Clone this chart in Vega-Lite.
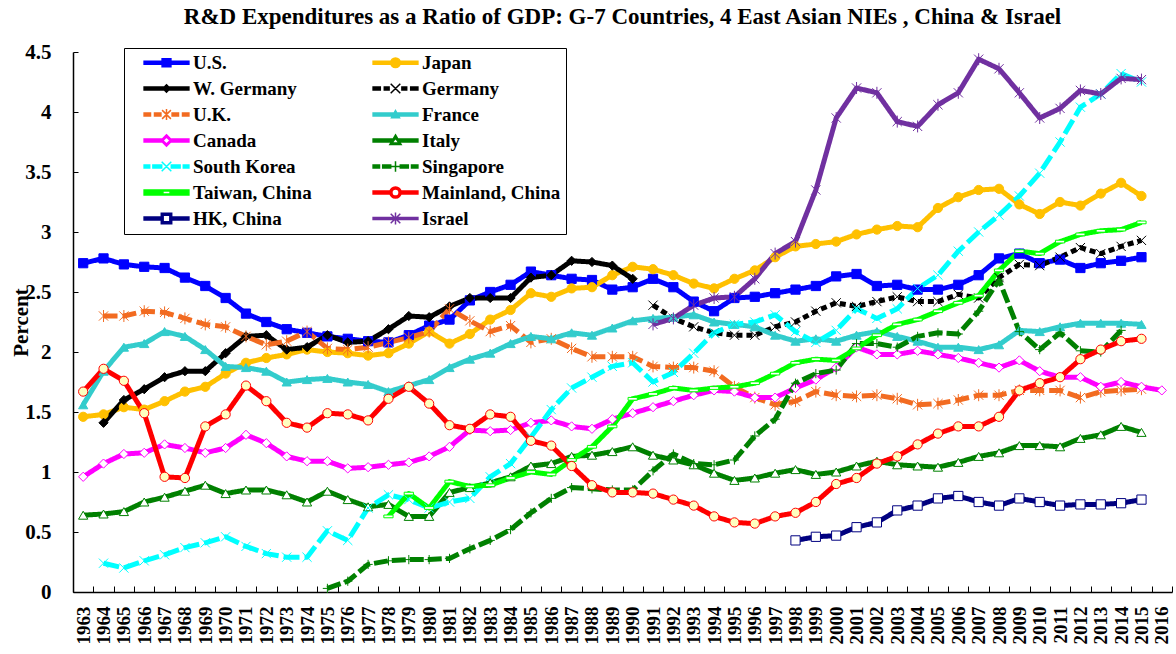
{
"$schema":"https://vega.github.io/schema/vega-lite/v6.json",
"width":1099,"height":540,
"autosize":"none",
"padding":{"left":73,"top":52,"right":4,"bottom":62},
"background":"white",
"title":{"text":"R&D Expenditures as a Ratio of GDP: G-7 Countries, 4 East Asian NIEs , China & Israel","anchor":"middle","font":"Liberation Serif","fontWeight":"bold","fontSize":23,"color":"black","offset":12},
"data":{"values":[
{"country":"U.S.","year":1963,"value":2.74},{"country":"U.S.","year":1964,"value":2.78},{"country":"U.S.","year":1965,"value":2.73},{"country":"U.S.","year":1966,"value":2.71},{"country":"U.S.","year":1967,"value":2.70},{"country":"U.S.","year":1968,"value":2.62},{"country":"U.S.","year":1969,"value":2.55},{"country":"U.S.","year":1970,"value":2.45},{"country":"U.S.","year":1971,"value":2.32},{"country":"U.S.","year":1972,"value":2.25},{"country":"U.S.","year":1973,"value":2.19},{"country":"U.S.","year":1974,"value":2.16},{"country":"U.S.","year":1975,"value":2.13},{"country":"U.S.","year":1976,"value":2.11},{"country":"U.S.","year":1977,"value":2.09},{"country":"U.S.","year":1978,"value":2.08},{"country":"U.S.","year":1979,"value":2.14},{"country":"U.S.","year":1980,"value":2.22},{"country":"U.S.","year":1981,"value":2.27},{"country":"U.S.","year":1982,"value":2.43},{"country":"U.S.","year":1983,"value":2.50},{"country":"U.S.","year":1984,"value":2.56},{"country":"U.S.","year":1985,"value":2.67},{"country":"U.S.","year":1986,"value":2.64},{"country":"U.S.","year":1987,"value":2.61},{"country":"U.S.","year":1988,"value":2.60},{"country":"U.S.","year":1989,"value":2.52},{"country":"U.S.","year":1990,"value":2.54},{"country":"U.S.","year":1991,"value":2.61},{"country":"U.S.","year":1992,"value":2.54},{"country":"U.S.","year":1993,"value":2.42},{"country":"U.S.","year":1994,"value":2.34},{"country":"U.S.","year":1995,"value":2.45},{"country":"U.S.","year":1996,"value":2.46},{"country":"U.S.","year":1997,"value":2.49},{"country":"U.S.","year":1998,"value":2.52},{"country":"U.S.","year":1999,"value":2.55},{"country":"U.S.","year":2000,"value":2.63},{"country":"U.S.","year":2001,"value":2.65},{"country":"U.S.","year":2002,"value":2.55},{"country":"U.S.","year":2003,"value":2.56},{"country":"U.S.","year":2004,"value":2.52},{"country":"U.S.","year":2005,"value":2.52},{"country":"U.S.","year":2006,"value":2.56},{"country":"U.S.","year":2007,"value":2.64},{"country":"U.S.","year":2008,"value":2.78},{"country":"U.S.","year":2009,"value":2.82},{"country":"U.S.","year":2010,"value":2.74},{"country":"U.S.","year":2011,"value":2.77},{"country":"U.S.","year":2012,"value":2.70},{"country":"U.S.","year":2013,"value":2.74},{"country":"U.S.","year":2014,"value":2.76},{"country":"U.S.","year":2015,"value":2.79},
{"country":"Japan","year":1963,"value":1.46},{"country":"Japan","year":1964,"value":1.48},{"country":"Japan","year":1965,"value":1.54},{"country":"Japan","year":1966,"value":1.52},{"country":"Japan","year":1967,"value":1.59},{"country":"Japan","year":1968,"value":1.67},{"country":"Japan","year":1969,"value":1.71},{"country":"Japan","year":1970,"value":1.82},{"country":"Japan","year":1971,"value":1.91},{"country":"Japan","year":1972,"value":1.95},{"country":"Japan","year":1973,"value":1.98},{"country":"Japan","year":1974,"value":2.02},{"country":"Japan","year":1975,"value":2.00},{"country":"Japan","year":1976,"value":1.99},{"country":"Japan","year":1977,"value":1.97},{"country":"Japan","year":1978,"value":1.99},{"country":"Japan","year":1979,"value":2.07},{"country":"Japan","year":1980,"value":2.17},{"country":"Japan","year":1981,"value":2.07},{"country":"Japan","year":1982,"value":2.15},{"country":"Japan","year":1983,"value":2.27},{"country":"Japan","year":1984,"value":2.35},{"country":"Japan","year":1985,"value":2.49},{"country":"Japan","year":1986,"value":2.46},{"country":"Japan","year":1987,"value":2.53},{"country":"Japan","year":1988,"value":2.54},{"country":"Japan","year":1989,"value":2.64},{"country":"Japan","year":1990,"value":2.71},{"country":"Japan","year":1991,"value":2.69},{"country":"Japan","year":1992,"value":2.64},{"country":"Japan","year":1993,"value":2.57},{"country":"Japan","year":1994,"value":2.53},{"country":"Japan","year":1995,"value":2.61},{"country":"Japan","year":1996,"value":2.68},{"country":"Japan","year":1997,"value":2.79},{"country":"Japan","year":1998,"value":2.88},{"country":"Japan","year":1999,"value":2.90},{"country":"Japan","year":2000,"value":2.92},{"country":"Japan","year":2001,"value":2.98},{"country":"Japan","year":2002,"value":3.02},{"country":"Japan","year":2003,"value":3.05},{"country":"Japan","year":2004,"value":3.04},{"country":"Japan","year":2005,"value":3.20},{"country":"Japan","year":2006,"value":3.29},{"country":"Japan","year":2007,"value":3.35},{"country":"Japan","year":2008,"value":3.36},{"country":"Japan","year":2009,"value":3.23},{"country":"Japan","year":2010,"value":3.15},{"country":"Japan","year":2011,"value":3.25},{"country":"Japan","year":2012,"value":3.22},{"country":"Japan","year":2013,"value":3.32},{"country":"Japan","year":2014,"value":3.41},{"country":"Japan","year":2015,"value":3.30},
{"country":"W. Germany","year":1964,"value":1.41},{"country":"W. Germany","year":1965,"value":1.60},{"country":"W. Germany","year":1966,"value":1.69},{"country":"W. Germany","year":1967,"value":1.79},{"country":"W. Germany","year":1968,"value":1.84},{"country":"W. Germany","year":1969,"value":1.84},{"country":"W. Germany","year":1970,"value":1.99},{"country":"W. Germany","year":1971,"value":2.13},{"country":"W. Germany","year":1972,"value":2.14},{"country":"W. Germany","year":1973,"value":2.02},{"country":"W. Germany","year":1974,"value":2.04},{"country":"W. Germany","year":1975,"value":2.14},{"country":"W. Germany","year":1976,"value":2.08},{"country":"W. Germany","year":1977,"value":2.09},{"country":"W. Germany","year":1978,"value":2.19},{"country":"W. Germany","year":1979,"value":2.30},{"country":"W. Germany","year":1980,"value":2.29},{"country":"W. Germany","year":1981,"value":2.38},{"country":"W. Germany","year":1982,"value":2.45},{"country":"W. Germany","year":1983,"value":2.45},{"country":"W. Germany","year":1984,"value":2.45},{"country":"W. Germany","year":1985,"value":2.62},{"country":"W. Germany","year":1986,"value":2.64},{"country":"W. Germany","year":1987,"value":2.76},{"country":"W. Germany","year":1988,"value":2.75},{"country":"W. Germany","year":1989,"value":2.72},{"country":"W. Germany","year":1990,"value":2.61},
{"country":"Germany","year":1991,"value":2.39},{"country":"Germany","year":1992,"value":2.28},{"country":"Germany","year":1993,"value":2.21},{"country":"Germany","year":1994,"value":2.16},{"country":"Germany","year":1995,"value":2.14},{"country":"Germany","year":1996,"value":2.14},{"country":"Germany","year":1997,"value":2.21},{"country":"Germany","year":1998,"value":2.25},{"country":"Germany","year":1999,"value":2.34},{"country":"Germany","year":2000,"value":2.41},{"country":"Germany","year":2001,"value":2.38},{"country":"Germany","year":2002,"value":2.42},{"country":"Germany","year":2003,"value":2.46},{"country":"Germany","year":2004,"value":2.42},{"country":"Germany","year":2005,"value":2.42},{"country":"Germany","year":2006,"value":2.48},{"country":"Germany","year":2007,"value":2.45},{"country":"Germany","year":2008,"value":2.62},{"country":"Germany","year":2009,"value":2.73},{"country":"Germany","year":2010,"value":2.72},{"country":"Germany","year":2011,"value":2.79},{"country":"Germany","year":2012,"value":2.87},{"country":"Germany","year":2013,"value":2.82},{"country":"Germany","year":2014,"value":2.88},{"country":"Germany","year":2015,"value":2.93},
{"country":"U.K.","year":1964,"value":2.30},{"country":"U.K.","year":1965,"value":2.30},{"country":"U.K.","year":1966,"value":2.34},{"country":"U.K.","year":1967,"value":2.33},{"country":"U.K.","year":1968,"value":2.28},{"country":"U.K.","year":1969,"value":2.23},{"country":"U.K.","year":1970,"value":2.21},{"country":"U.K.","year":1971,"value":2.13},{"country":"U.K.","year":1972,"value":2.06},{"country":"U.K.","year":1973,"value":2.09},{"country":"U.K.","year":1974,"value":2.17},{"country":"U.K.","year":1975,"value":2.03},{"country":"U.K.","year":1976,"value":2.02},{"country":"U.K.","year":1977,"value":2.04},{"country":"U.K.","year":1978,"value":2.08},{"country":"U.K.","year":1979,"value":2.12},{"country":"U.K.","year":1980,"value":2.17},{"country":"U.K.","year":1981,"value":2.36},{"country":"U.K.","year":1982,"value":2.26},{"country":"U.K.","year":1983,"value":2.17},{"country":"U.K.","year":1984,"value":2.22},{"country":"U.K.","year":1985,"value":2.08},{"country":"U.K.","year":1986,"value":2.11},{"country":"U.K.","year":1987,"value":2.03},{"country":"U.K.","year":1988,"value":1.96},{"country":"U.K.","year":1989,"value":1.96},{"country":"U.K.","year":1990,"value":1.96},{"country":"U.K.","year":1991,"value":1.88},{"country":"U.K.","year":1992,"value":1.87},{"country":"U.K.","year":1993,"value":1.87},{"country":"U.K.","year":1994,"value":1.84},{"country":"U.K.","year":1995,"value":1.71},{"country":"U.K.","year":1996,"value":1.62},{"country":"U.K.","year":1997,"value":1.56},{"country":"U.K.","year":1998,"value":1.59},{"country":"U.K.","year":1999,"value":1.67},{"country":"U.K.","year":2000,"value":1.64},{"country":"U.K.","year":2001,"value":1.63},{"country":"U.K.","year":2002,"value":1.64},{"country":"U.K.","year":2003,"value":1.61},{"country":"U.K.","year":2004,"value":1.56},{"country":"U.K.","year":2005,"value":1.57},{"country":"U.K.","year":2006,"value":1.60},{"country":"U.K.","year":2007,"value":1.64},{"country":"U.K.","year":2008,"value":1.64},{"country":"U.K.","year":2009,"value":1.68},{"country":"U.K.","year":2010,"value":1.68},{"country":"U.K.","year":2011,"value":1.68},{"country":"U.K.","year":2012,"value":1.62},{"country":"U.K.","year":2013,"value":1.67},{"country":"U.K.","year":2014,"value":1.68},{"country":"U.K.","year":2015,"value":1.69},
{"country":"France","year":1963,"value":1.56},{"country":"France","year":1964,"value":1.84},{"country":"France","year":1965,"value":2.04},{"country":"France","year":1966,"value":2.07},{"country":"France","year":1967,"value":2.17},{"country":"France","year":1968,"value":2.13},{"country":"France","year":1969,"value":2.02},{"country":"France","year":1970,"value":1.88},{"country":"France","year":1971,"value":1.87},{"country":"France","year":1972,"value":1.84},{"country":"France","year":1973,"value":1.75},{"country":"France","year":1974,"value":1.77},{"country":"France","year":1975,"value":1.78},{"country":"France","year":1976,"value":1.75},{"country":"France","year":1977,"value":1.73},{"country":"France","year":1978,"value":1.67},{"country":"France","year":1979,"value":1.72},{"country":"France","year":1980,"value":1.77},{"country":"France","year":1981,"value":1.87},{"country":"France","year":1982,"value":1.94},{"country":"France","year":1983,"value":1.99},{"country":"France","year":1984,"value":2.07},{"country":"France","year":1985,"value":2.13},{"country":"France","year":1986,"value":2.11},{"country":"France","year":1987,"value":2.16},{"country":"France","year":1988,"value":2.14},{"country":"France","year":1989,"value":2.20},{"country":"France","year":1990,"value":2.26},{"country":"France","year":1991,"value":2.28},{"country":"France","year":1992,"value":2.29},{"country":"France","year":1993,"value":2.31},{"country":"France","year":1994,"value":2.25},{"country":"France","year":1995,"value":2.23},{"country":"France","year":1996,"value":2.21},{"country":"France","year":1997,"value":2.14},{"country":"France","year":1998,"value":2.09},{"country":"France","year":1999,"value":2.11},{"country":"France","year":2000,"value":2.09},{"country":"France","year":2001,"value":2.14},{"country":"France","year":2002,"value":2.17},{"country":"France","year":2003,"value":2.13},{"country":"France","year":2004,"value":2.09},{"country":"France","year":2005,"value":2.04},{"country":"France","year":2006,"value":2.04},{"country":"France","year":2007,"value":2.02},{"country":"France","year":2008,"value":2.06},{"country":"France","year":2009,"value":2.18},{"country":"France","year":2010,"value":2.17},{"country":"France","year":2011,"value":2.21},{"country":"France","year":2012,"value":2.24},{"country":"France","year":2013,"value":2.24},{"country":"France","year":2014,"value":2.24},{"country":"France","year":2015,"value":2.23},
{"country":"Canada","year":1963,"value":0.96},{"country":"Canada","year":1964,"value":1.07},{"country":"Canada","year":1965,"value":1.15},{"country":"Canada","year":1966,"value":1.16},{"country":"Canada","year":1967,"value":1.23},{"country":"Canada","year":1968,"value":1.20},{"country":"Canada","year":1969,"value":1.16},{"country":"Canada","year":1970,"value":1.20},{"country":"Canada","year":1971,"value":1.31},{"country":"Canada","year":1972,"value":1.24},{"country":"Canada","year":1973,"value":1.13},{"country":"Canada","year":1974,"value":1.09},{"country":"Canada","year":1975,"value":1.09},{"country":"Canada","year":1976,"value":1.03},{"country":"Canada","year":1977,"value":1.04},{"country":"Canada","year":1978,"value":1.06},{"country":"Canada","year":1979,"value":1.08},{"country":"Canada","year":1980,"value":1.13},{"country":"Canada","year":1981,"value":1.21},{"country":"Canada","year":1982,"value":1.35},{"country":"Canada","year":1983,"value":1.34},{"country":"Canada","year":1984,"value":1.35},{"country":"Canada","year":1985,"value":1.41},{"country":"Canada","year":1986,"value":1.43},{"country":"Canada","year":1987,"value":1.38},{"country":"Canada","year":1988,"value":1.36},{"country":"Canada","year":1989,"value":1.44},{"country":"Canada","year":1990,"value":1.49},{"country":"Canada","year":1991,"value":1.54},{"country":"Canada","year":1992,"value":1.59},{"country":"Canada","year":1993,"value":1.64},{"country":"Canada","year":1994,"value":1.68},{"country":"Canada","year":1995,"value":1.67},{"country":"Canada","year":1996,"value":1.62},{"country":"Canada","year":1997,"value":1.62},{"country":"Canada","year":1998,"value":1.70},{"country":"Canada","year":1999,"value":1.77},{"country":"Canada","year":2000,"value":1.87},{"country":"Canada","year":2001,"value":2.04},{"country":"Canada","year":2002,"value":1.98},{"country":"Canada","year":2003,"value":1.98},{"country":"Canada","year":2004,"value":2.01},{"country":"Canada","year":2005,"value":1.98},{"country":"Canada","year":2006,"value":1.95},{"country":"Canada","year":2007,"value":1.91},{"country":"Canada","year":2008,"value":1.87},{"country":"Canada","year":2009,"value":1.93},{"country":"Canada","year":2010,"value":1.84},{"country":"Canada","year":2011,"value":1.79},{"country":"Canada","year":2012,"value":1.79},{"country":"Canada","year":2013,"value":1.71},{"country":"Canada","year":2014,"value":1.75},{"country":"Canada","year":2015,"value":1.71},{"country":"Canada","year":2016,"value":1.68},
{"country":"Italy","year":1963,"value":0.64},{"country":"Italy","year":1964,"value":0.65},{"country":"Italy","year":1965,"value":0.67},{"country":"Italy","year":1966,"value":0.75},{"country":"Italy","year":1967,"value":0.79},{"country":"Italy","year":1968,"value":0.84},{"country":"Italy","year":1969,"value":0.89},{"country":"Italy","year":1970,"value":0.82},{"country":"Italy","year":1971,"value":0.85},{"country":"Italy","year":1972,"value":0.85},{"country":"Italy","year":1973,"value":0.81},{"country":"Italy","year":1974,"value":0.75},{"country":"Italy","year":1975,"value":0.84},{"country":"Italy","year":1976,"value":0.77},{"country":"Italy","year":1977,"value":0.71},{"country":"Italy","year":1978,"value":0.73},{"country":"Italy","year":1979,"value":0.63},{"country":"Italy","year":1980,"value":0.63},{"country":"Italy","year":1981,"value":0.83},{"country":"Italy","year":1982,"value":0.87},{"country":"Italy","year":1983,"value":0.91},{"country":"Italy","year":1984,"value":0.96},{"country":"Italy","year":1985,"value":1.05},{"country":"Italy","year":1986,"value":1.07},{"country":"Italy","year":1987,"value":1.13},{"country":"Italy","year":1988,"value":1.14},{"country":"Italy","year":1989,"value":1.17},{"country":"Italy","year":1990,"value":1.21},{"country":"Italy","year":1991,"value":1.14},{"country":"Italy","year":1992,"value":1.10},{"country":"Italy","year":1993,"value":1.06},{"country":"Italy","year":1994,"value":0.99},{"country":"Italy","year":1995,"value":0.93},{"country":"Italy","year":1996,"value":0.95},{"country":"Italy","year":1997,"value":0.99},{"country":"Italy","year":1998,"value":1.02},{"country":"Italy","year":1999,"value":0.98},{"country":"Italy","year":2000,"value":1.00},{"country":"Italy","year":2001,"value":1.05},{"country":"Italy","year":2002,"value":1.09},{"country":"Italy","year":2003,"value":1.06},{"country":"Italy","year":2004,"value":1.05},{"country":"Italy","year":2005,"value":1.04},{"country":"Italy","year":2006,"value":1.08},{"country":"Italy","year":2007,"value":1.13},{"country":"Italy","year":2008,"value":1.16},{"country":"Italy","year":2009,"value":1.22},{"country":"Italy","year":2010,"value":1.22},{"country":"Italy","year":2011,"value":1.21},{"country":"Italy","year":2012,"value":1.28},{"country":"Italy","year":2013,"value":1.31},{"country":"Italy","year":2014,"value":1.38},{"country":"Italy","year":2015,"value":1.33},
{"country":"South Korea","year":1964,"value":0.24},{"country":"South Korea","year":1965,"value":0.20},{"country":"South Korea","year":1966,"value":0.26},{"country":"South Korea","year":1967,"value":0.31},{"country":"South Korea","year":1968,"value":0.37},{"country":"South Korea","year":1969,"value":0.41},{"country":"South Korea","year":1970,"value":0.46},{"country":"South Korea","year":1971,"value":0.38},{"country":"South Korea","year":1972,"value":0.32},{"country":"South Korea","year":1973,"value":0.29},{"country":"South Korea","year":1974,"value":0.29},{"country":"South Korea","year":1975,"value":0.51},{"country":"South Korea","year":1976,"value":0.43},{"country":"South Korea","year":1977,"value":0.70},{"country":"South Korea","year":1978,"value":0.81},{"country":"South Korea","year":1979,"value":0.77},{"country":"South Korea","year":1980,"value":0.70},{"country":"South Korea","year":1981,"value":0.75},{"country":"South Korea","year":1982,"value":0.78},{"country":"South Korea","year":1983,"value":0.96},{"country":"South Korea","year":1984,"value":1.07},{"country":"South Korea","year":1985,"value":1.29},{"country":"South Korea","year":1986,"value":1.52},{"country":"South Korea","year":1987,"value":1.70},{"country":"South Korea","year":1988,"value":1.79},{"country":"South Korea","year":1989,"value":1.88},{"country":"South Korea","year":1990,"value":1.91},{"country":"South Korea","year":1991,"value":1.75},{"country":"South Korea","year":1992,"value":1.83},{"country":"South Korea","year":1993,"value":1.99},{"country":"South Korea","year":1994,"value":2.16},{"country":"South Korea","year":1995,"value":2.23},{"country":"South Korea","year":1996,"value":2.25},{"country":"South Korea","year":1997,"value":2.31},{"country":"South Korea","year":1998,"value":2.17},{"country":"South Korea","year":1999,"value":2.08},{"country":"South Korea","year":2000,"value":2.18},{"country":"South Korea","year":2001,"value":2.36},{"country":"South Korea","year":2002,"value":2.28},{"country":"South Korea","year":2003,"value":2.36},{"country":"South Korea","year":2004,"value":2.53},{"country":"South Korea","year":2005,"value":2.64},{"country":"South Korea","year":2006,"value":2.84},{"country":"South Korea","year":2007,"value":3.00},{"country":"South Korea","year":2008,"value":3.14},{"country":"South Korea","year":2009,"value":3.30},{"country":"South Korea","year":2010,"value":3.49},{"country":"South Korea","year":2011,"value":3.75},{"country":"South Korea","year":2012,"value":4.04},{"country":"South Korea","year":2013,"value":4.15},{"country":"South Korea","year":2014,"value":4.32},{"country":"South Korea","year":2015,"value":4.25},
{"country":"Singapore","year":1975,"value":0.03},{"country":"Singapore","year":1976,"value":0.09},{"country":"Singapore","year":1977,"value":0.23},{"country":"Singapore","year":1978,"value":0.26},{"country":"Singapore","year":1979,"value":0.27},{"country":"Singapore","year":1980,"value":0.27},{"country":"Singapore","year":1981,"value":0.28},{"country":"Singapore","year":1982,"value":0.36},{"country":"Singapore","year":1983,"value":0.43},{"country":"Singapore","year":1984,"value":0.52},{"country":"Singapore","year":1985,"value":0.66},{"country":"Singapore","year":1986,"value":0.78},{"country":"Singapore","year":1987,"value":0.87},{"country":"Singapore","year":1988,"value":0.86},{"country":"Singapore","year":1989,"value":0.85},{"country":"Singapore","year":1990,"value":0.85},{"country":"Singapore","year":1991,"value":1.01},{"country":"Singapore","year":1992,"value":1.15},{"country":"Singapore","year":1993,"value":1.07},{"country":"Singapore","year":1994,"value":1.06},{"country":"Singapore","year":1995,"value":1.10},{"country":"Singapore","year":1996,"value":1.30},{"country":"Singapore","year":1997,"value":1.44},{"country":"Singapore","year":1998,"value":1.74},{"country":"Singapore","year":1999,"value":1.82},{"country":"Singapore","year":2000,"value":1.85},{"country":"Singapore","year":2001,"value":2.07},{"country":"Singapore","year":2002,"value":2.07},{"country":"Singapore","year":2003,"value":2.04},{"country":"Singapore","year":2004,"value":2.13},{"country":"Singapore","year":2005,"value":2.16},{"country":"Singapore","year":2006,"value":2.15},{"country":"Singapore","year":2007,"value":2.34},{"country":"Singapore","year":2008,"value":2.60},{"country":"Singapore","year":2009,"value":2.17},{"country":"Singapore","year":2010,"value":2.02},{"country":"Singapore","year":2011,"value":2.16},{"country":"Singapore","year":2012,"value":2.01},{"country":"Singapore","year":2013,"value":2.00},{"country":"Singapore","year":2014,"value":2.18},
{"country":"Taiwan, China","year":1978,"value":0.63},{"country":"Taiwan, China","year":1979,"value":0.82},{"country":"Taiwan, China","year":1980,"value":0.70},{"country":"Taiwan, China","year":1981,"value":0.92},{"country":"Taiwan, China","year":1982,"value":0.88},{"country":"Taiwan, China","year":1983,"value":0.89},{"country":"Taiwan, China","year":1984,"value":0.95},{"country":"Taiwan, China","year":1985,"value":1.00},{"country":"Taiwan, China","year":1986,"value":0.98},{"country":"Taiwan, China","year":1987,"value":1.10},{"country":"Taiwan, China","year":1988,"value":1.21},{"country":"Taiwan, China","year":1989,"value":1.38},{"country":"Taiwan, China","year":1990,"value":1.61},{"country":"Taiwan, China","year":1991,"value":1.65},{"country":"Taiwan, China","year":1992,"value":1.70},{"country":"Taiwan, China","year":1993,"value":1.68},{"country":"Taiwan, China","year":1994,"value":1.70},{"country":"Taiwan, China","year":1995,"value":1.71},{"country":"Taiwan, China","year":1996,"value":1.74},{"country":"Taiwan, China","year":1997,"value":1.82},{"country":"Taiwan, China","year":1998,"value":1.91},{"country":"Taiwan, China","year":1999,"value":1.94},{"country":"Taiwan, China","year":2000,"value":1.93},{"country":"Taiwan, China","year":2001,"value":2.03},{"country":"Taiwan, China","year":2002,"value":2.14},{"country":"Taiwan, China","year":2003,"value":2.23},{"country":"Taiwan, China","year":2004,"value":2.27},{"country":"Taiwan, China","year":2005,"value":2.34},{"country":"Taiwan, China","year":2006,"value":2.41},{"country":"Taiwan, China","year":2007,"value":2.47},{"country":"Taiwan, China","year":2008,"value":2.68},{"country":"Taiwan, China","year":2009,"value":2.84},{"country":"Taiwan, China","year":2010,"value":2.82},{"country":"Taiwan, China","year":2011,"value":2.92},{"country":"Taiwan, China","year":2012,"value":2.98},{"country":"Taiwan, China","year":2013,"value":3.01},{"country":"Taiwan, China","year":2014,"value":3.02},{"country":"Taiwan, China","year":2015,"value":3.08},
{"country":"Mainland, China","year":1963,"value":1.67},{"country":"Mainland, China","year":1964,"value":1.86},{"country":"Mainland, China","year":1965,"value":1.76},{"country":"Mainland, China","year":1966,"value":1.49},{"country":"Mainland, China","year":1967,"value":0.96},{"country":"Mainland, China","year":1968,"value":0.95},{"country":"Mainland, China","year":1969,"value":1.38},{"country":"Mainland, China","year":1970,"value":1.48},{"country":"Mainland, China","year":1971,"value":1.72},{"country":"Mainland, China","year":1972,"value":1.59},{"country":"Mainland, China","year":1973,"value":1.41},{"country":"Mainland, China","year":1974,"value":1.37},{"country":"Mainland, China","year":1975,"value":1.49},{"country":"Mainland, China","year":1976,"value":1.48},{"country":"Mainland, China","year":1977,"value":1.43},{"country":"Mainland, China","year":1978,"value":1.61},{"country":"Mainland, China","year":1979,"value":1.71},{"country":"Mainland, China","year":1980,"value":1.57},{"country":"Mainland, China","year":1981,"value":1.39},{"country":"Mainland, China","year":1982,"value":1.36},{"country":"Mainland, China","year":1983,"value":1.48},{"country":"Mainland, China","year":1984,"value":1.46},{"country":"Mainland, China","year":1985,"value":1.26},{"country":"Mainland, China","year":1986,"value":1.22},{"country":"Mainland, China","year":1987,"value":1.05},{"country":"Mainland, China","year":1988,"value":0.89},{"country":"Mainland, China","year":1989,"value":0.83},{"country":"Mainland, China","year":1990,"value":0.83},{"country":"Mainland, China","year":1991,"value":0.82},{"country":"Mainland, China","year":1992,"value":0.77},{"country":"Mainland, China","year":1993,"value":0.72},{"country":"Mainland, China","year":1994,"value":0.63},{"country":"Mainland, China","year":1995,"value":0.58},{"country":"Mainland, China","year":1996,"value":0.57},{"country":"Mainland, China","year":1997,"value":0.63},{"country":"Mainland, China","year":1998,"value":0.66},{"country":"Mainland, China","year":1999,"value":0.75},{"country":"Mainland, China","year":2000,"value":0.90},{"country":"Mainland, China","year":2001,"value":0.95},{"country":"Mainland, China","year":2002,"value":1.07},{"country":"Mainland, China","year":2003,"value":1.13},{"country":"Mainland, China","year":2004,"value":1.23},{"country":"Mainland, China","year":2005,"value":1.32},{"country":"Mainland, China","year":2006,"value":1.38},{"country":"Mainland, China","year":2007,"value":1.38},{"country":"Mainland, China","year":2008,"value":1.46},{"country":"Mainland, China","year":2009,"value":1.68},{"country":"Mainland, China","year":2010,"value":1.74},{"country":"Mainland, China","year":2011,"value":1.79},{"country":"Mainland, China","year":2012,"value":1.94},{"country":"Mainland, China","year":2013,"value":2.02},{"country":"Mainland, China","year":2014,"value":2.09},{"country":"Mainland, China","year":2015,"value":2.11},
{"country":"HK, China","year":1998,"value":0.43},{"country":"HK, China","year":1999,"value":0.46},{"country":"HK, China","year":2000,"value":0.47},{"country":"HK, China","year":2001,"value":0.54},{"country":"HK, China","year":2002,"value":0.58},{"country":"HK, China","year":2003,"value":0.68},{"country":"HK, China","year":2004,"value":0.72},{"country":"HK, China","year":2005,"value":0.78},{"country":"HK, China","year":2006,"value":0.80},{"country":"HK, China","year":2007,"value":0.75},{"country":"HK, China","year":2008,"value":0.72},{"country":"HK, China","year":2009,"value":0.78},{"country":"HK, China","year":2010,"value":0.75},{"country":"HK, China","year":2011,"value":0.72},{"country":"HK, China","year":2012,"value":0.73},{"country":"HK, China","year":2013,"value":0.73},{"country":"HK, China","year":2014,"value":0.74},{"country":"HK, China","year":2015,"value":0.77},
{"country":"Israel","year":1991,"value":2.23},{"country":"Israel","year":1992,"value":2.28},{"country":"Israel","year":1993,"value":2.39},{"country":"Israel","year":1994,"value":2.45},{"country":"Israel","year":1995,"value":2.46},{"country":"Israel","year":1996,"value":2.61},{"country":"Israel","year":1997,"value":2.82},{"country":"Israel","year":1998,"value":2.92},{"country":"Israel","year":1999,"value":3.35},{"country":"Israel","year":2000,"value":3.95},{"country":"Israel","year":2001,"value":4.20},{"country":"Israel","year":2002,"value":4.16},{"country":"Israel","year":2003,"value":3.92},{"country":"Israel","year":2004,"value":3.88},{"country":"Israel","year":2005,"value":4.06},{"country":"Israel","year":2006,"value":4.16},{"country":"Israel","year":2007,"value":4.44},{"country":"Israel","year":2008,"value":4.36},{"country":"Israel","year":2009,"value":4.16},{"country":"Israel","year":2010,"value":3.95},{"country":"Israel","year":2011,"value":4.03},{"country":"Israel","year":2012,"value":4.18},{"country":"Israel","year":2013,"value":4.15},{"country":"Israel","year":2014,"value":4.28},{"country":"Israel","year":2015,"value":4.27}
]},
"encoding":{
"x":{"field":"year","type":"ordinal","scale":{"type":"band","domain":[1963,1964,1965,1966,1967,1968,1969,1970,1971,1972,1973,1974,1975,1976,1977,1978,1979,1980,1981,1982,1983,1984,1985,1986,1987,1988,1989,1990,1991,1992,1993,1994,1995,1996,1997,1998,1999,2000,2001,2002,2003,2004,2005,2006,2007,2008,2009,2010,2011,2012,2013,2014,2015,2016],"paddingInner":0,"paddingOuter":0},
 "axis":{"title":null,"labelAngle":-90,"labelFont":"Liberation Serif","labelFontWeight":"bold","labelFontSize":19,"labelColor":"black","labelOverlap":false,"tickBand":"extent","tickSize":-6,"tickColor":"black","tickWidth":1,"domainColor":"black","domainWidth":1.5,"labelPadding":20,"grid":false}},
"y":{"field":"value","type":"quantitative","scale":{"domain":[0,4.5],"nice":false},
 "axis":{"title":"Percent","values":[0,0.5,1,1.5,2,2.5,3,3.5,4,4.5],"format":"~g","labelFont":"Liberation Serif","labelFontWeight":"bold","labelFontSize":21,"labelColor":"black","tickSize":-5,"tickColor":"black","domainColor":"black","domainWidth":1.5,"labelPadding":27,"grid":false,"titleFont":"Liberation Serif","titleFontWeight":"bold","titleFontSize":21,"titleColor":"black","titlePadding":-7}}
},
"layer":[
{"mark":{"type":"line","strokeJoin":"round"},
 "encoding":{
  "color":{"field":"country","type":"nominal","legend":null,"scale":{"domain":["U.S.","Japan","W. Germany","Germany","U.K.","France","Canada","Italy","South Korea","Singapore","Taiwan, China","Mainland, China","HK, China","Israel"],"range":["#0000FF","#FFC000","#000000","#000000","#F26B21","#33CCCC","#FF00FF","#008000","#00FFFF","#008000","#00FF00","#FF0000","#000080","#7030A0"]}},
  "strokeDash":{"field":"country","type":"nominal","legend":null,"scale":{"domain":["U.S.","Japan","W. Germany","Germany","U.K.","France","Canada","Italy","South Korea","Singapore","Taiwan, China","Mainland, China","HK, China","Israel"],"range":[[1,0],[1,0],[1,0],[6,4],[14,5],[1,0],[1,0],[1,0],[16,5],[14,4],[1,0],[1,0],[1,0],[1,0]]}},
  "strokeWidth":{"field":"country","type":"ordinal","legend":null,"scale":{"domain":["U.S.","Japan","W. Germany","Germany","U.K.","France","Canada","Italy","South Korea","Singapore","Taiwan, China","Mainland, China","HK, China","Israel"],"range":[5,5,4.5,2.5,5,5,5,5,5,5,5,5,5,3.5]}}
 }},
{"mark":{"type":"point","filled":true,"opacity":1},
 "encoding":{
  "shape":{"field":"country","type":"nominal","legend":null,"scale":{"domain":["U.S.","Japan","W. Germany","Germany","U.K.","France","Canada","Italy","South Korea","Singapore","Taiwan, China","Mainland, China","HK, China","Israel"],"range":["square","circle","diamond","M-1,-1L1,1M-1,1L1,-1","M-1,-1L1,1M-1,1L1,-1M0,-1.3V1.3","triangle-up","diamond","triangle-up","M-1,-1L1,1M-1,1L1,-1","M-1,0H1M0,-1V1","M-1,-0.3H1V0.3H-1Z","circle","square","M-1,-1L1,1M-1,1L1,-1M0,-1.3V1.3"]}},
  "fill":{"field":"country","type":"nominal","legend":null,"scale":{"domain":["U.S.","Japan","W. Germany","Germany","U.K.","France","Canada","Italy","South Korea","Singapore","Taiwan, China","Mainland, China","HK, China","Israel"],"range":["#0000FF","#FFC000","#000000","transparent","transparent","#33CCCC","#FFFFFF","#FFFFFF","transparent","transparent","#FFFFFF","#FFFFC0","#FFFFFF","transparent"]}},
  "stroke":{"field":"country","type":"nominal","legend":null,"scale":{"domain":["U.S.","Japan","W. Germany","Germany","U.K.","France","Canada","Italy","South Korea","Singapore","Taiwan, China","Mainland, China","HK, China","Israel"],"range":["#0000FF","#FFC000","#000000","#000000","#F26B21","#33CCCC","#FF00FF","#008000","#00FFFF","#008000","#00FF00","#FF0000","#000080","#7030A0"]}},
  "size":{"field":"country","type":"ordinal","legend":null,"scale":{"domain":["U.S.","Japan","W. Germany","Germany","U.K.","France","Canada","Italy","South Korea","Singapore","Taiwan, China","Mainland, China","HK, China","Israel"],"range":[85,85,40,100,90,55,80,80,100,110,64,110,100,150]}},
  "strokeWidth":{"field":"country","type":"ordinal","legend":null,"scale":{"domain":["U.S.","Japan","W. Germany","Germany","U.K.","France","Canada","Italy","South Korea","Singapore","Taiwan, China","Mainland, China","HK, China","Israel"],"range":[1,1,1,1.5,1.5,1,1.3,1.3,1.6,1.6,0,1.3,1.3,1.5]}}
 }},
{"transform":[{"filter":"false"}],
 "mark":{"type":"point","filled":true,"opacity":1},
 "encoding":{
  "shape":{"field":"country","type":"nominal","scale":{"domain":["U.S.","W. Germany","U.K.","Canada","South Korea","Taiwan, China","HK, China","Japan","Germany","France","Italy","Singapore","Mainland, China","Israel"],"range":[
   "M-2.8,-0.2H2.8V0.2H-2.8Z M-0.55,-0.5H0.55V0.5H-0.55Z",
   "M-2.8,-0.2H2.8V0.2H-2.8Z M0,-0.45L0.45,0L0,0.45L-0.45,0Z",
   "M-2.8,-0.2H-2V0.2H-2.8Z M-1.5,-0.2H-0.7V0.2H-1.5Z M0.7,-0.2H1.5V0.2H0.7Z M2,-0.2H2.8V0.2H2Z M-0.55,-0.55L0.55,0.55 M-0.55,0.55L0.55,-0.55 M0,-0.7V0.7",
   "M-2.8,-0.2H-0.7V0.2H-2.8Z M0.7,-0.2H2.8V0.2H0.7Z M0,-0.7L0.7,0L0,0.7L-0.7,0Z M0,-0.45L-0.45,0L0,0.45L0.45,0Z",
   "M-2.8,-0.2H-2.1V0.2H-2.8Z M-1.7,-0.2H-0.6V0.2H-1.7Z M0.6,-0.2H1.7V0.2H0.6Z M2.1,-0.2H2.8V0.2H2.1Z M-0.6,-0.6L0.6,0.6 M-0.6,0.6L0.6,-0.6",
   "M-2.8,-0.32H2.8V0.32H-2.8Z M-0.45,-0.2V0.2H0.45V-0.2Z",
   "M-2.8,-0.2H-0.65V0.2H-2.8Z M0.65,-0.2H2.8V0.2H0.65Z M-0.65,-0.65H0.65V0.65H-0.65Z M-0.42,-0.42V0.42H0.42V-0.42Z",
   "M-2.8,-0.2H2.8V0.2H-2.8Z M0.6,0A0.6,0.6 0 1,1 -0.6,0A0.6,0.6 0 1,1 0.6,0Z",
   "M-2.8,-0.2H-1.9V0.2H-2.8Z M-1.4,-0.2H-0.8V0.2H-1.4Z M0.8,-0.2H1.4V0.2H0.8Z M1.9,-0.2H2.8V0.2H1.9Z M-0.6,-0.6L0.6,0.6 M-0.6,0.6L0.6,-0.6",
   "M-2.8,-0.2H2.8V0.2H-2.8Z M0,-0.5L0.5,0.4H-0.5Z",
   "M-2.8,-0.2H-0.42V0.2H-2.8Z M0.42,-0.2H2.8V0.2H0.42Z M0,-0.7L0.7,0.5H-0.7Z M0,-0.3L-0.42,0.3H0.42Z",
   "M-2.8,-0.2H-2V0.2H-2.8Z M-1.6,-0.2H-0.6V0.2H-1.6Z M0.6,-0.2H1.6V0.2H0.6Z M2,-0.2H2.8V0.2H2Z M-0.6,0H0.6 M0,-0.65V0.65",
   "M-2.8,-0.2H-0.65V0.2H-2.8Z M0.65,-0.2H2.8V0.2H0.65Z M0.7,0A0.7,0.7 0 1,1 -0.7,0A0.7,0.7 0 1,1 0.7,0Z M0.45,0A0.45,0.45 0 1,0 -0.45,0A0.45,0.45 0 1,0 0.45,0Z",
   "M-2.8,-0.12H2.8V0.12H-2.8Z M-0.6,-0.6L0.6,0.6 M-0.6,0.6L0.6,-0.6 M0,-0.75V0.75"]},
   "legend":{"orient":"none","legendX":51,"legendY":-4,"columns":2,"title":null}},
  "fill":{"field":"country","type":"nominal","scale":{"domain":["U.S.","W. Germany","U.K.","Canada","South Korea","Taiwan, China","HK, China","Japan","Germany","France","Italy","Singapore","Mainland, China","Israel"],"range":["#0000FF","#000000","#F26B21","#FF00FF","#00FFFF","#00FF00","#000080","#FFC000","#000000","#33CCCC","#008000","#008000","#FF0000","#7030A0"]},
   "legend":{"orient":"none","legendX":51,"legendY":-4,"columns":2,"title":null}},
  "stroke":{"field":"country","type":"nominal","scale":{"domain":["U.S.","W. Germany","U.K.","Canada","South Korea","Taiwan, China","HK, China","Japan","Germany","France","Italy","Singapore","Mainland, China","Israel"],"range":["#0000FF","#000000","#F26B21","#FF00FF","#00FFFF","#00FF00","#000080","#FFC000","#000000","#33CCCC","#008000","#008000","#FF0000","#7030A0"]},
   "legend":{"orient":"none","legendX":51,"legendY":-4,"columns":2,"title":null}}
 }}
],
"resolve":{"scale":{"shape":"independent","fill":"independent","stroke":"independent","strokeWidth":"independent","size":"independent"}},
"config":{
 "view":{"stroke":null},
 "font":"Liberation Serif",
 "legend":{"labelFont":"Liberation Serif","labelFontWeight":"bold","labelFontSize":19,"labelColor":"black","labelLimit":0,"symbolSize":256,"symbolStrokeWidth":1.5,"symbolOffset":28,"labelOffset":17,"strokeColor":"black","fillColor":"white","padding":5,"rowPadding":6,"columnPadding":46,"symbolOpacity":1}
}
}
